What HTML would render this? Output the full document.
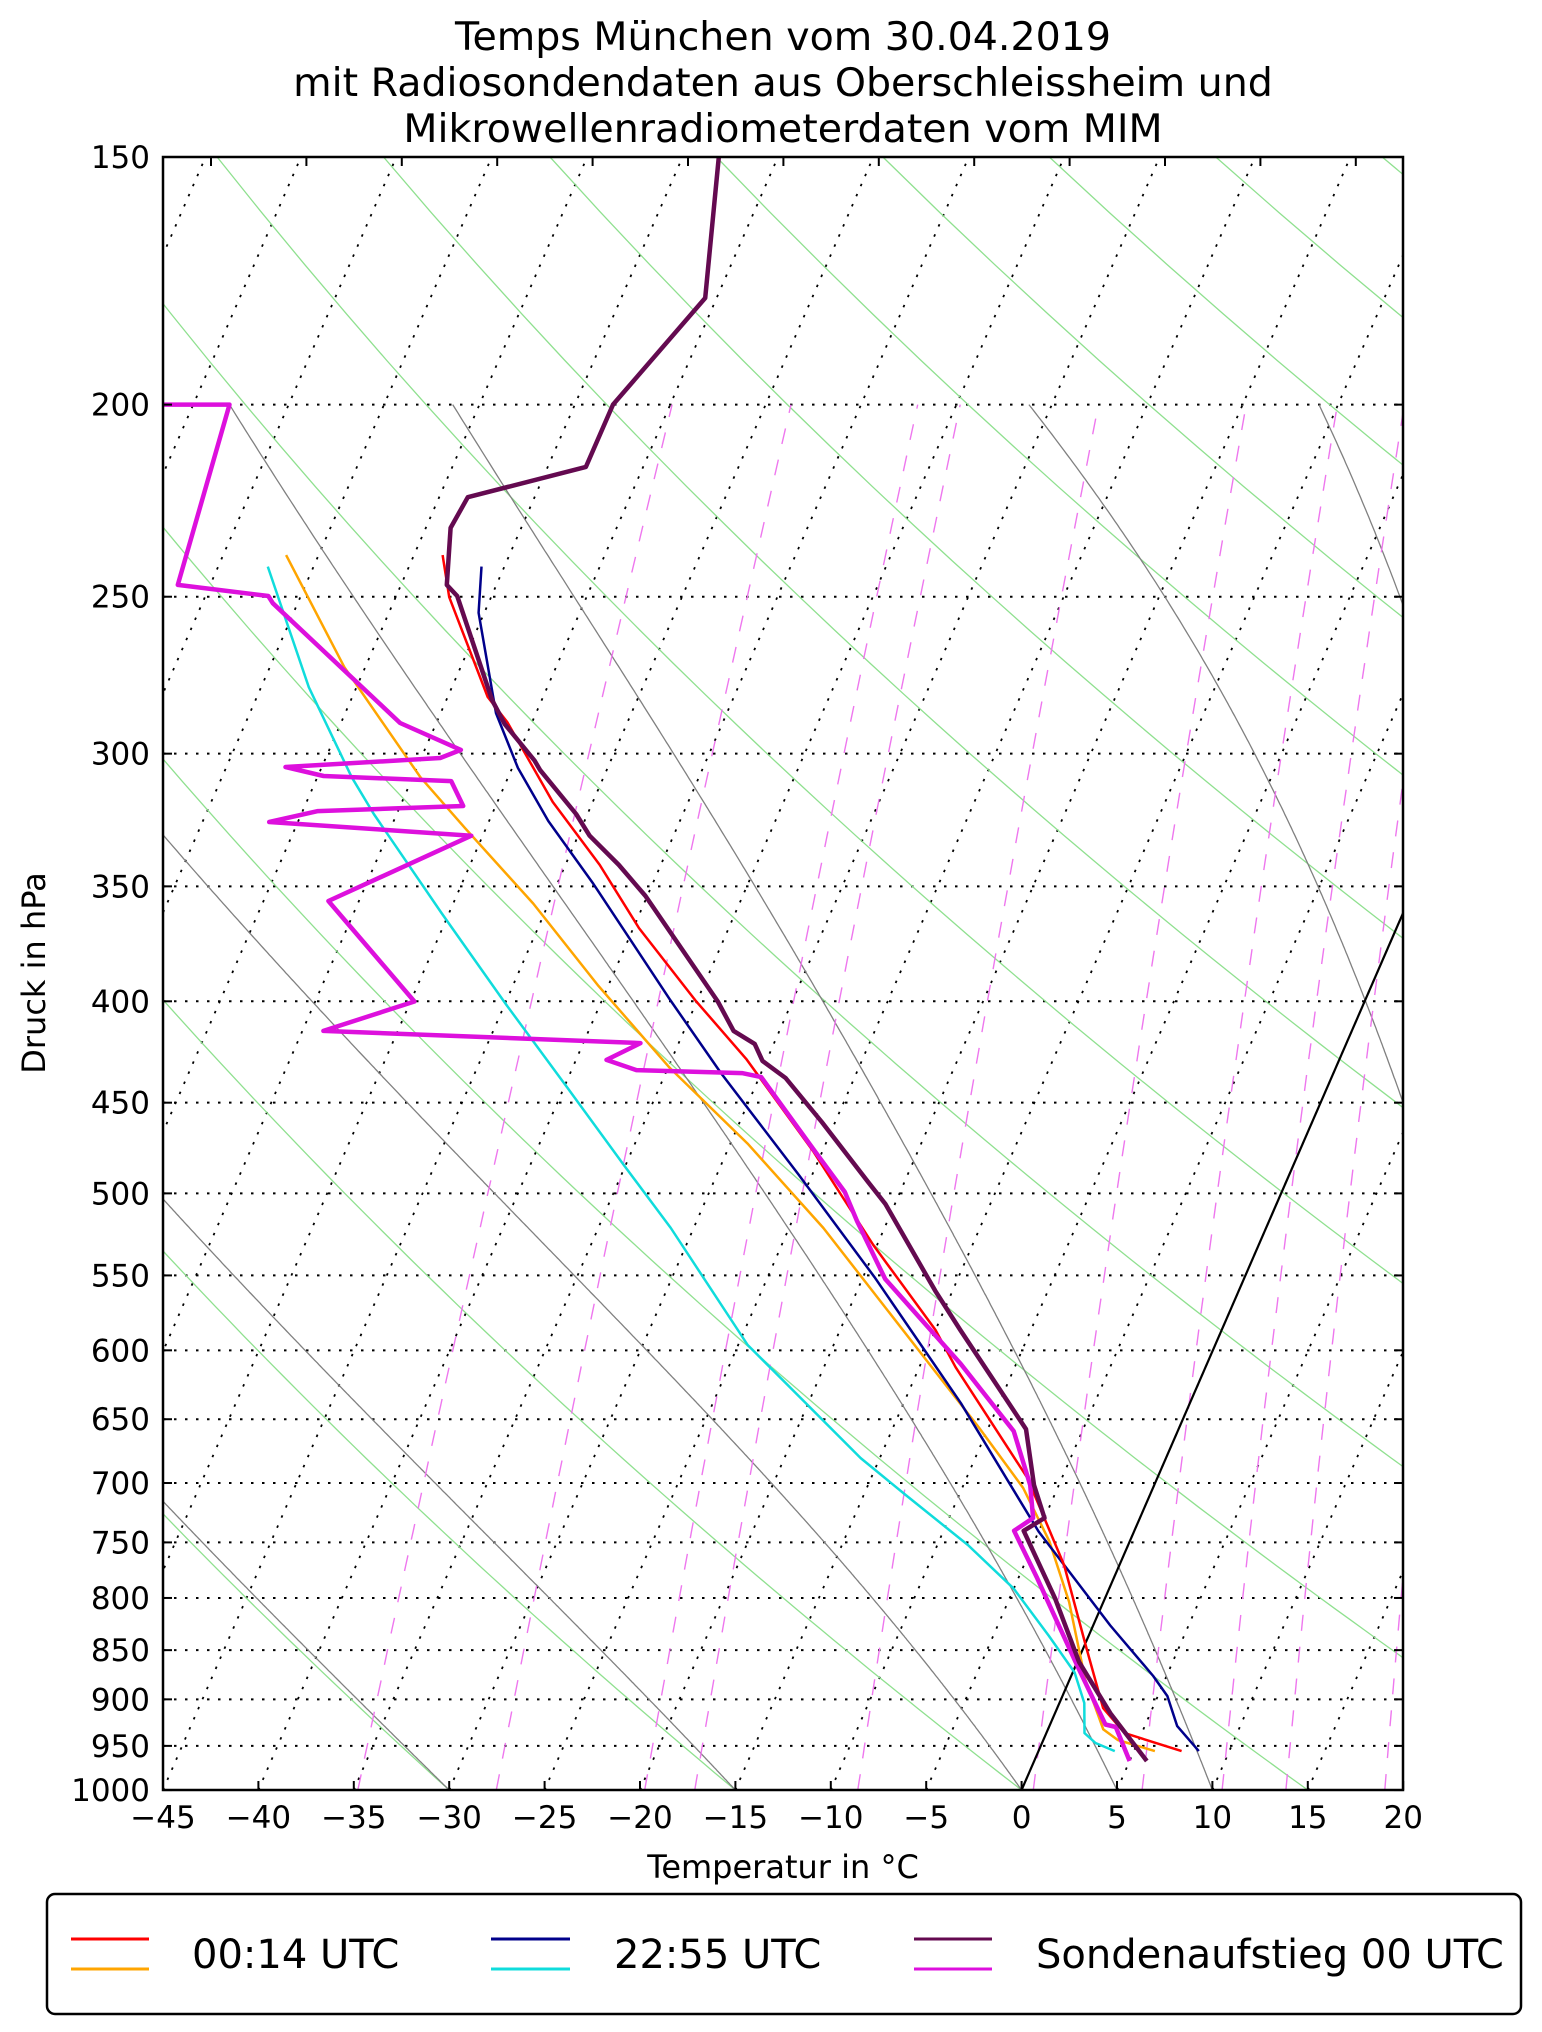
<!DOCTYPE html>
<html><head><meta charset="utf-8"><style>
html,body{margin:0;padding:0;background:#fff;}
svg{display:block;font-family:"DejaVu Sans","Liberation Sans",sans-serif;}
</style></head><body>
<svg id="chart" width="1542" height="2032" viewBox="0 0 1542 2032" xmlns="http://www.w3.org/2000/svg">
<rect x="0" y="0" width="1542" height="2032" fill="#fff"/>
<defs><clipPath id="plotclip"><rect x="163" y="157" width="1240" height="1633"/></clipPath></defs>
<g font-size="39.5" text-anchor="middle" fill="#000">
<text x="783" y="50">Temps München vom 30.04.2019</text>
<text x="783" y="96">mit Radiosondendaten aus Oberschleissheim und</text>
<text x="783" y="142">Mikrowellenradiometerdaten vom MIM</text>
</g>
<g id="bg" clip-path="url(#plotclip)"></g>
<g id="series" clip-path="url(#plotclip)"></g>
<g id="axes"></g>
<text x="783" y="1878" font-size="32" text-anchor="middle">Temperatur in °C</text>
<text x="0" y="0" font-size="32" text-anchor="middle" transform="translate(45,973) rotate(-90)">Druck in hPa</text>
<g>
<rect x="47" y="1894" width="1474" height="120" rx="8" fill="#fff" stroke="#000" stroke-width="2.5"/>
<g>
<line x1="71" y1="1939" x2="149" y2="1939" stroke="#ff0000" stroke-width="3"/>
<line x1="71" y1="1969" x2="149" y2="1969" stroke="#ffa500" stroke-width="3"/>
<text x="192" y="1968" font-size="40">00:14 UTC</text></g>
<g>
<line x1="491" y1="1939" x2="570" y2="1939" stroke="#00008b" stroke-width="3"/>
<line x1="491" y1="1969" x2="570" y2="1969" stroke="#10dcdc" stroke-width="3"/>
<text x="614" y="1968" font-size="40">22:55 UTC</text></g>
<g>
<line x1="914" y1="1939" x2="992" y2="1939" stroke="#640a50" stroke-width="3"/>
<line x1="914" y1="1969" x2="992" y2="1969" stroke="#dd10dd" stroke-width="3"/>
<text x="1036" y="1968" font-size="40">Sondenaufstieg 00 UTC</text></g>
</g>
</svg>
<script>
// ---- data ----
const pressureTicks = [150,200,250,300,350,400,450,500,550,600,650,700,750,800,850,900,950,1000];
const tempTicks = [-45,-40,-35,-30,-25,-20,-15,-10,-5,0,5,10,15,20];
const dryThetas = [-45,-30,-15,0,15,30,45,60,75,90,105,120,135,150,165];
const moistStartsBottom = [-45,-30,-15,0];
const moistStartsTop = [-31.2,-16.0];
const moistPairBottom = [5,10];
const moistPairTop = [-73.1,-61.4];
const mixRatios = [0.2,0.4,0.8,1,2,4,6,8,10,14];

const sondeTP = [150,176.7,200,215,222.7,230.8,246.6,249.8,281.9,289.8,302.4,305.7,321.8,330,341.4,353.9,400.1,414,420.3,428.7,437.3,460.2,493.5,506.2,560,586,657.5,701.7,729,740,800.7,861.9,914.6,966.8];
const sondeTT = [-53.1,-50.6,-53.0,-53.0,-58.5,-58.7,-57.6,-56.8,-52.6,-51.4,-49.0,-48.5,-45.6,-44.4,-42.2,-40.1,-33.9,-32.4,-31.0,-30.2,-28.6,-25.7,-21.9,-20.5,-15.9,-13.7,-8.0,-6.3,-5.0,-5.8,-2.6,0.1,2.9,5.9];
const sondeDP = [200,200,246.6,249.8,251.9,289.5,298.7,301.5,304.7,307.9,309.7,318.8,320.7,324.8,330,356,400.1,414,419.9,428.2,433.3,434.8,436.8,478.8,499.2,516.3,552.3,609.6,659,701.7,729,740,782,865.8,926.7,929.4,966.8];
const sondeDT = [-80,-73.1,-71.7,-66.7,-66.3,-56.9,-53.1,-54.0,-61.9,-59.7,-52.9,-51.7,-59.2,-61.5,-50.6,-56.6,-49.8,-53.9,-37.0,-38.4,-36.6,-31.0,-29.9,-25.1,-22.9,-21.6,-18.8,-12.9,-8.6,-6.5,-5.6,-6.3,-4.0,0.1,2.9,3.5,5.0];
const redP = [238.2,250.1,280.9,289.2,317.3,341.4,367.4,399.6,427.7,476,530.9,586,611.9,696,770,848.9,909.1,936,955.8];
const redT = [-58.5,-57.2,-52.9,-51.3,-47.1,-43.2,-39.7,-35.1,-31.1,-25.5,-20.2,-15.0,-13.1,-6.8,-2.9,0.2,2.4,4.1,7.5];
const orangeP = [238.2,271.3,308.3,327.1,357.1,393,432.2,471.9,520.5,604.6,656.3,704.1,749.3,803.7,879,932,943.5,955.8];
const orangeT = [-66.7,-61.1,-54.6,-51.1,-45.8,-40.5,-34.9,-29.1,-23.2,-15.0,-10.5,-6.8,-4.2,-1.8,0.8,2.9,3.9,6.1];
const blueP = [241.4,254.7,286.2,305,324.4,349,399.6,434.8,489.4,551.1,638,740.6,826,875.9,896.6,928.4,955.8];
const blueT = [-56.2,-55.3,-52.1,-49.7,-46.9,-43.1,-36.4,-32.1,-25.7,-19.4,-12.0,-5.0,0.9,4.3,5.5,6.7,8.4];
const cyanP = [241.4,277.7,308.3,321.8,361,401.7,442.4,483.8,520.5,596.3,680,709.8,752.3,791.4,835.8,872.4,903.8,936,946.8,955.8];
const cyanT = [-67.4,-62.5,-58.2,-56.2,-50.4,-44.9,-39.8,-35.1,-31.2,-24.5,-16.0,-12.8,-8.4,-5.0,-2.1,0.1,1.3,2.0,2.8,4.0];

// ---- axes ----
const L=163,R=1403,TOP=157,BOT=1790,PXC=19.08,SKEW=0.435,LNS=860.8;
function yOf(p){return TOP+LNS*Math.log(p/150);}
function xOf(t,p){return L+(t+45)*PXC+SKEW*(BOT-yOf(p));}
const NS='http://www.w3.org/2000/svg';
const bg=document.getElementById('bg'),series=document.getElementById('series'),axes=document.getElementById('axes');
function mk(tag,attrs,parent){const e=document.createElementNS(NS,tag);for(const k in attrs)e.setAttribute(k,attrs[k]);parent.appendChild(e);return e;}
function pathFrom(ps,ts){let d='';for(let i=0;i<ps.length;i++){d+=(i?'L':'M')+xOf(ts[i],ps[i]).toFixed(1)+' '+yOf(ps[i]).toFixed(1);}return d;}

pressureTicks.forEach(p=>{
  const l=mk('line',{x1:L,x2:R,y1:yOf(p),y2:yOf(p),stroke:'#000','stroke-width':2,'stroke-dasharray':'2.5,8.5'},bg);
  
  
});
for(let t=-130;t<=20;t+=5){
  const l=mk('line',{x1:xOf(t,1000),y1:BOT,x2:xOf(t,150),y2:TOP,stroke:'#000','stroke-width':1.8,'stroke-dasharray':'2.5,8.5'},bg);
  
  
}
dryThetas.forEach(th=>{
  const ps=[],ts=[];
  for(let p=1000;p>=150;p-=10){ps.push(p);ts.push((th+273.15)*Math.pow(p/1000,0.2857)-273.15);}
  const e=mk('path',{d:pathFrom(ps,ts),fill:'none',stroke:'#8fe08f','stroke-width':1.3},bg);
  
  
});
function es(T){const c=T-273.15;return 6.112*Math.exp(17.67*c/(c+243.5));}
function lapse(T,p){const e=es(T),rs=0.622*e/(p-e);return (287.04*T+2.501e6*rs)/(p*(1005.7+2.501e6*2.501e6*rs*0.622/(287.04*T*T)));}
function upFrom(t0){let T=t0+273.15;const ts=[];for(let p=1000;p>=200;p-=1){ts.push(T-273.15);T-=lapse(T,p);}return ts;}
function downFrom(t0){let T=t0+273.15;const tsr=[];for(let p=200;p<=1000;p+=1){tsr.push(T-273.15);T+=lapse(T,p);}return tsr.reverse();}
const pGrid=[];for(let p=1000;p>=200;p-=1)pGrid.push(p);
function drawMoist(ts){
  const e=mk('path',{d:pathFrom(pGrid,ts),fill:'none',stroke:'#808080','stroke-width':1.3},bg);
  
  
}
moistStartsBottom.forEach(t0=>drawMoist(upFrom(t0)));
moistStartsTop.forEach(t0=>drawMoist(downFrom(t0)));
moistPairBottom.forEach((tb,i)=>{
  const a=upFrom(tb),b=downFrom(moistPairTop[i]);
  const ts=pGrid.map((p,k)=>{const w=Math.log(1000/p)/Math.log(5);return (1-w)*a[k]+w*b[k];});
  drawMoist(ts);
});
mixRatios.forEach(w=>{
  const ps=[],ts=[];const ww=w/1000;
  for(let p=1000;p>=200;p-=10){const e=p*ww/(0.622+ww);const a=Math.log(e/6.112);ps.push(p);ts.push(243.5*a/(17.67-a));}
  const e=mk('path',{d:pathFrom(ps,ts),fill:'none',stroke:'#ee77ee','stroke-width':1.4,'stroke-dasharray':'16,16'},bg);
  
  
});
const zl=mk('line',{x1:xOf(0,1000),y1:BOT,x2:xOf(0,150),y2:TOP,stroke:'#000','stroke-width':2.2},bg);



function drawSeries(ps,ts,color,w,name){
  const e=mk('path',{d:pathFrom(ps,ts),fill:'none',stroke:color,'stroke-width':w,'stroke-linejoin':'round'},series);
  
  
}
drawSeries(cyanP,cyanT,'#10dcdc',2.5,'mwr-2255-dewpoint');
drawSeries(orangeP,orangeT,'#ffa500',2.5,'mwr-0014-dewpoint');
drawSeries(blueP,blueT,'#00008b',2.5,'mwr-2255-temperature');
drawSeries(redP,redT,'#ff0000',2.5,'mwr-0014-temperature');
drawSeries(sondeDP,sondeDT,'#dd10dd',4.5,'sonde-dewpoint');
drawSeries(sondeTP,sondeTT,'#640a50',4.5,'sonde-temperature');

const fr=mk('rect',{x:L,y:TOP,width:R-L,height:BOT-TOP,fill:'none',stroke:'#000','stroke-width':2.5},axes);


pressureTicks.forEach(p=>{
  const y=yOf(p);
  mk('line',{x1:L,x2:L+9,y1:y,y2:y,stroke:'#000','stroke-width':2},axes);
  mk('line',{x1:R-9,x2:R,y1:y,y2:y,stroke:'#000','stroke-width':2},axes);
  const t=mk('text',{x:150,y:y+11,'font-size':31,'text-anchor':'end'},axes);
  t.textContent=String(p);
  
  
});
tempTicks.forEach(tv=>{
  const x=L+(tv+45)*PXC;
  mk('line',{x1:x,x2:x,y1:BOT,y2:BOT-9,stroke:'#000','stroke-width':2},axes);
  const tx=x+48;
  if(tx<R) mk('line',{x1:tx,x2:tx,y1:TOP,y2:TOP+9,stroke:'#000','stroke-width':2},axes);
  const t=mk('text',{x:x,y:1828,'font-size':31,'text-anchor':'middle'},axes);
  t.textContent=(tv<0?'\u2212':'')+Math.abs(tv);
  
  
});
</script>
</body></html>
